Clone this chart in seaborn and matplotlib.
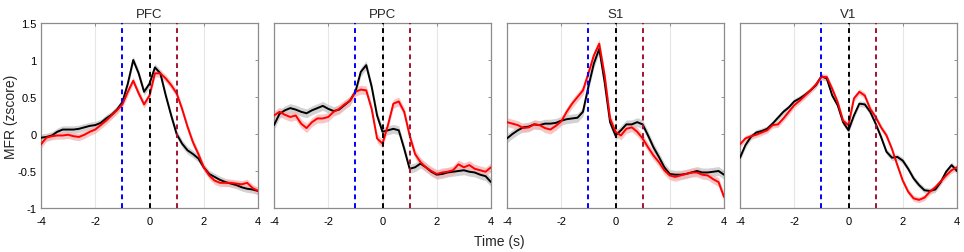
import numpy as np
import pandas as pd
import matplotlib.pyplot as plt
import seaborn as sns

# -------------------------------
# data (0.2 s steps)
# -------------------------------
time = np.round(np.arange(-4, 4.01, 0.2), 1)

regions = ["PFC", "PPC", "S1", "V1"]

pfc_black = [-0.05, -0.04, -0.02, 0.03, 0.06, 0.06, 0.06, 0.07, 0.09, 0.11, 0.12,
             0.15, 0.21, 0.26, 0.33, 0.43, 0.68, 1.0, 0.82, 0.57, 0.68,
             0.9, 0.82, 0.52, 0.25, 0.0, -0.13, -0.22, -0.27, -0.33, -0.45,
             -0.54, -0.58, -0.62, -0.65, -0.67, -0.69, -0.72, -0.74, -0.75, -0.77]
pfc_red = [-0.14, -0.05, -0.03, -0.02, -0.02, -0.01, -0.03, -0.04, -0.01, 0.03, 0.06,
           0.12, 0.18, 0.25, 0.32, 0.4, 0.57, 0.72, 0.55, 0.4, 0.52,
           0.82, 0.82, 0.75, 0.66, 0.55, 0.34, 0.1, -0.11, -0.27, -0.45,
           -0.56, -0.63, -0.66, -0.66, -0.66, -0.67, -0.68, -0.66, -0.73, -0.77]

ppc_black = [0.12, 0.27, 0.32, 0.35, 0.33, 0.3, 0.28, 0.32, 0.35, 0.38, 0.34,
             0.31, 0.33, 0.39, 0.45, 0.57, 0.84, 0.93, 0.64, 0.25, 0.03,
             0.05, 0.07, 0.05, -0.2, -0.47, -0.45, -0.4, -0.45, -0.51, -0.55,
             -0.54, -0.52, -0.51, -0.5, -0.49, -0.51, -0.52, -0.55, -0.57, -0.65]
ppc_red = [0.25, 0.3, 0.26, 0.23, 0.25, 0.14, 0.08, 0.16, 0.21, 0.21, 0.23,
           0.3, 0.34, 0.4, 0.45, 0.57, 0.6, 0.59, 0.34, -0.06, -0.13,
           0.12, 0.41, 0.44, 0.3, -0.02, -0.27, -0.38, -0.45, -0.5, -0.54,
           -0.52, -0.51, -0.49, -0.41, -0.45, -0.42, -0.47, -0.49, -0.51, -0.45]

s1_black = [-0.06, 0.0, 0.05, 0.09, 0.1, 0.13, 0.12, 0.14, 0.14, 0.15, 0.18,
            0.2, 0.21, 0.22, 0.3, 0.64, 0.95, 1.15, 0.7, 0.16, -0.02,
            0.05, 0.13, 0.13, 0.16, 0.13, -0.02, -0.18, -0.31, -0.45, -0.54,
            -0.55, -0.55, -0.54, -0.52, -0.5, -0.52, -0.52, -0.51, -0.5, -0.55]
s1_red = [0.16, 0.14, 0.12, 0.08, 0.09, 0.13, 0.12, 0.08, 0.06, 0.11, 0.17,
          0.3, 0.41, 0.5, 0.59, 0.82, 1.06, 1.22, 0.79, 0.21, 0.03,
          -0.02, 0.07, 0.09, 0.03, -0.06, -0.18, -0.29, -0.38, -0.49, -0.56,
          -0.58, -0.56, -0.54, -0.52, -0.52, -0.55, -0.56, -0.61, -0.65, -0.85]

v1_black = [-0.32, -0.15, -0.04, 0.02, 0.04, 0.07, 0.14, 0.22, 0.3, 0.36, 0.44,
            0.48, 0.53, 0.59, 0.66, 0.78, 0.75, 0.52, 0.39, 0.16, 0.05,
            0.25, 0.41, 0.4, 0.3, 0.14, -0.04, -0.24, -0.32, -0.31, -0.36,
            -0.47, -0.6, -0.69, -0.76, -0.77, -0.75, -0.65, -0.51, -0.42, -0.5]
v1_red = [-0.14, -0.06, -0.03, -0.01, 0.02, 0.05, 0.12, 0.13, 0.21, 0.3, 0.39,
          0.45, 0.52, 0.59, 0.67, 0.77, 0.77, 0.61, 0.43, 0.18, 0.12,
          0.48, 0.57, 0.52, 0.34, 0.23, 0.09, -0.02, -0.2, -0.42, -0.63,
          -0.78, -0.87, -0.89, -0.86, -0.78, -0.72, -0.64, -0.56, -0.49, -0.45]

black_series = [pfc_black, ppc_black, s1_black, v1_black]
red_series = [pfc_red, ppc_red, s1_red, v1_red]
sem_black = [0.05, 0.06, 0.06, 0.04]
sem_red = [0.05, 0.06, 0.06, 0.04]

event_times = [-1.0, 0.0, 1.0]
event_colors = ["#0000ff", "#000000", "#a2142f"]

# -------------------------------
# plot
# -------------------------------
sns.set_style("white")
plt.rcParams["font.family"] = ["Liberation Sans", "DejaVu Sans"]

W, H = 964, 253
fig = plt.figure(figsize=(W / 100, H / 100), dpi=100)

lefts = [41, 274, 507, 740]
ax_w, top, bottom = 217, 24, 209

for i, name in enumerate(regions):
    ax = fig.add_axes([lefts[i] / W, (H - bottom) / H, ax_w / W, (bottom - top) / H])
    df = pd.DataFrame({"t": time, "black": black_series[i], "red": red_series[i]})

    for col, line_c, band_c, sem in [("black", "black", "#c4c4c4", sem_black[i]),
                                     ("red", "#ff0000", "#f7b4b4", sem_red[i])]:
        ax.fill_between(df["t"], df[col] - sem, df[col] + sem, color=band_c,
                        alpha=0.75, linewidth=0, zorder=2)
        sns.lineplot(data=df, x="t", y=col, color=line_c, linewidth=1.4, ax=ax, zorder=3)

    for t, c in zip(event_times, event_colors):
        ax.axvline(t, color=c, linestyle=(0, (2.5, 2)), linewidth=1.4, zorder=4)

    ax.set_xlim(-4, 4)
    ax.set_ylim(-1, 1.5)
    ax.set_xticks([-4, -2, 0, 2, 4])
    ax.set_yticks([-1, -0.5, 0, 0.5, 1, 1.5])
    ax.set_xticklabels(["-4", "-2", "0", "2", "4"])
    if i == 0:
        ax.set_yticklabels(["-1", "-0.5", "0", "0.5", "1", "1.5"])
        ax.set_ylabel("MFR (zscore)", fontsize=10, va="center")
        ax.yaxis.set_label_coords(-30 / ax_w, 0.5)
    else:
        ax.set_yticklabels([])
        ax.set_ylabel("")
    ax.set_xlabel("")
    ax.grid(axis="x", color="#e6e6e6", linewidth=0.8, zorder=0)
    ax.set_axisbelow(True)
    ax.tick_params(direction="in", length=2, width=0.6, colors="#7f7f7f",
                   labelcolor="black", labelsize=8, top=True, right=True)
    ax.tick_params(axis="x", pad=6)
    ax.tick_params(axis="y", pad=3)
    for sp in ax.spines.values():
        sp.set_color("#8c8c8c")
        sp.set_linewidth(0.9)
    ax.set_title(name, fontsize=9.5, pad=4)

fig.text(499 / W, 1 - 242 / H, "Time (s)", ha="center", va="center", fontsize=10)

plt.savefig("out.png", dpi=100)
